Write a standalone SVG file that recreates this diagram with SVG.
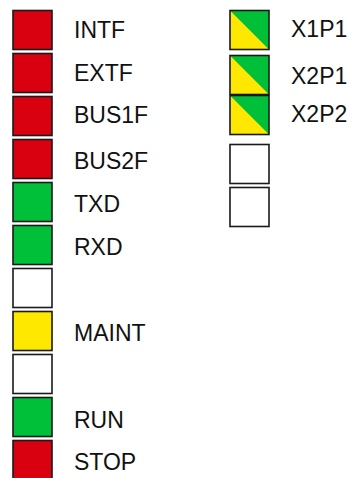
<svg xmlns="http://www.w3.org/2000/svg" width="355" height="478" viewBox="0 0 355 478">
<style>
.b{stroke:#1a1a1a;stroke-width:1.6}
.r{fill:#d9000f}
.g{fill:#00c03a}
.y{fill:#ffe800}
.w{fill:#ffffff}
text{font-family:"Liberation Sans",Arial,sans-serif;font-size:23px;fill:#111}
</style>
<rect width="355" height="478" fill="#fff"/>
<g id="intf"><rect class="b r" x="13" y="10.5" width="39" height="39"/><text x="74" y="37.5">INTF</text></g>
<g id="extf"><rect class="b r" x="13" y="53.5" width="39" height="39"/><text x="74" y="81">EXTF</text></g>
<g id="bus1f"><rect class="b r" x="13" y="96.5" width="39" height="39"/><text x="74" y="123">BUS1F</text></g>
<g id="bus2f"><rect class="b r" x="13" y="139.5" width="39" height="39"/><text x="74" y="169">BUS2F</text></g>
<g id="txd"><rect class="b g" x="13" y="182.5" width="39" height="39"/><text x="74" y="212">TXD</text></g>
<g id="rxd"><rect class="b g" x="13" y="225.5" width="39" height="39"/><text x="74" y="255">RXD</text></g>
<g id="blank1"><rect class="b w" x="13" y="268.5" width="39" height="39"/></g>
<g id="maint"><rect class="b y" x="13" y="311.5" width="39" height="39"/><text x="74" y="341">MAINT</text></g>
<g id="blank2"><rect class="b w" x="13" y="354.5" width="39" height="39"/></g>
<g id="run"><rect class="b g" x="13" y="397.5" width="39" height="39"/><text x="74" y="428">RUN</text></g>
<g id="stop"><rect class="b r" x="13" y="440.5" width="39" height="39"/><text x="74" y="469.5">STOP</text></g>
<g id="x1p1"><rect class="y" x="230" y="10.5" width="39" height="39"/><polygon class="g" points="230,10.5 269,10.5 269,49.5"/><rect class="b" fill="none" x="230" y="10.5" width="39" height="39"/><text x="291" y="37">X1P1</text></g>
<g id="x2p1"><rect class="y" x="230" y="55.5" width="39" height="39"/><polygon class="g" points="230,55.5 269,55.5 269,94.5"/><rect class="b" fill="none" x="230" y="55.5" width="39" height="39"/><text x="291" y="84">X2P1</text></g>
<g id="x2p2"><rect class="y" x="230" y="95.5" width="39" height="39"/><polygon class="g" points="230,95.5 269,95.5 269,134.5"/><rect class="b" fill="none" x="230" y="95.5" width="39" height="39"/><text x="291" y="122">X2P2</text></g>
<g id="blank3"><rect class="b w" x="230" y="144.5" width="39" height="39"/></g>
<g id="blank4"><rect class="b w" x="230" y="187.5" width="39" height="39"/></g>
</svg>
